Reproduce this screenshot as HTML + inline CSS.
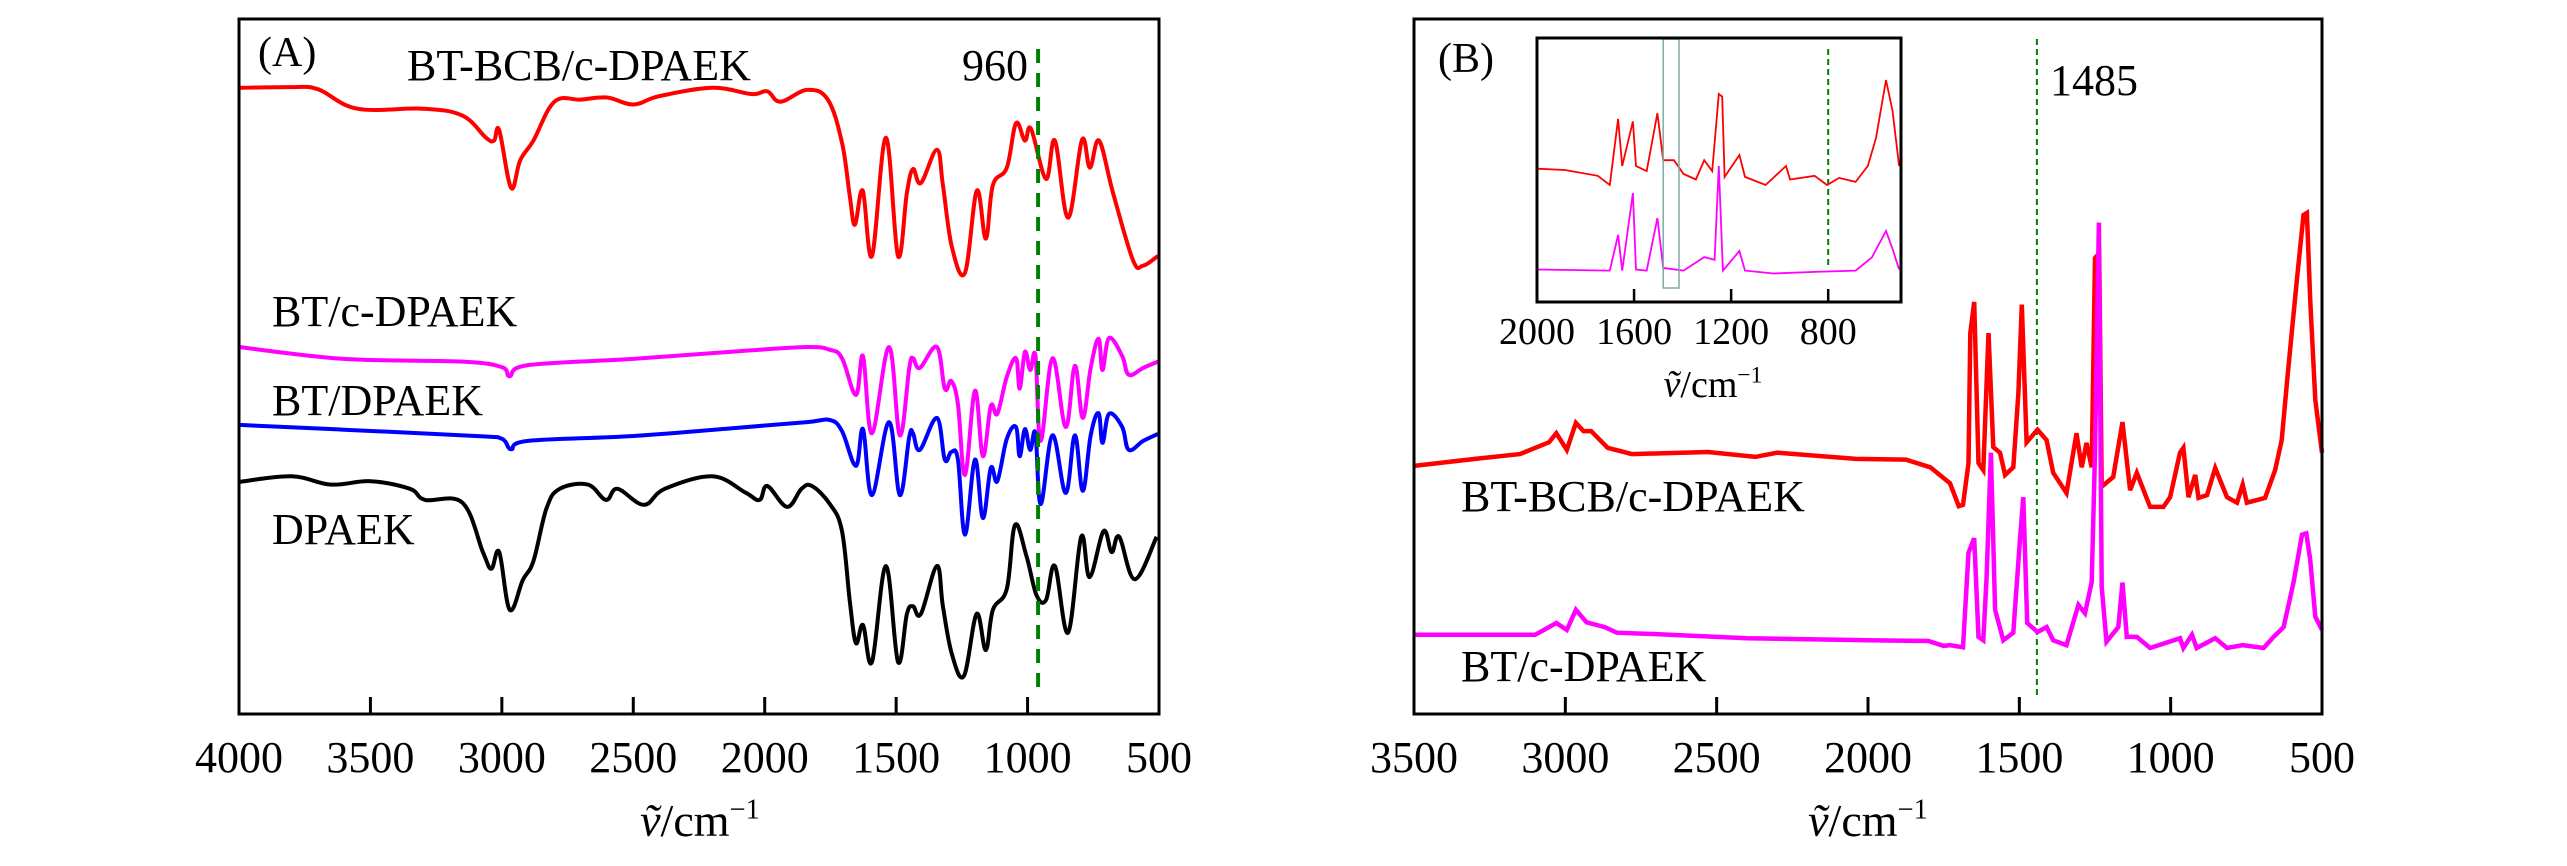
<!DOCTYPE html>
<html><head><meta charset="utf-8"><title>FTIR spectra</title>
<style>
html,body{margin:0;padding:0;background:#fff;}
svg{display:block;font-family:"Liberation Serif",serif;}
</style></head>
<body>
<svg id="chart" width="2567" height="866" viewBox="0 0 2567 866" xmlns="http://www.w3.org/2000/svg">
  <rect x="0" y="0" width="2567" height="866" fill="#fff"/>
  <g id="panelA"></g>
  <g id="panelB"></g>
</svg>
<script>
// ---------- Panel A data (wavenumber, relative transmittance) ----------
const aRedWn = [4000,3800,3700,3550,3300,3150,3060,3030,3010,2965,2930,2880,2800,2700,2600,2500,2400,2200,2050,1990,1940,1839,1760,1706,1676,1657,1627,1592,1539,1493,1459,1436,1406,1345,1322,1288,1238,1193,1159,1132,1079,1044,1010,987,930,896,846,793,763,728,675,599,561,504];
const aRedVal = [90.1,90.2,89.9,87.1,87.1,86.1,82.9,82.5,84.0,75.7,79.7,82.5,88.1,88.4,88.7,87.7,88.9,90.1,89.2,89.6,88.1,89.8,88.4,82.2,74.4,70.4,75.3,65.9,82.9,65.9,75.0,78.4,76.4,81.2,76.1,67.2,63.5,75.3,68.4,76.1,78.6,85.0,82.5,84.2,77.0,82.5,71.4,82.6,78.6,82.5,75.0,65.3,64.5,65.9];
const aPinkWn = [4000,3600,3150,3000,2970,2900,2500,2100,1839,1752,1706,1653,1626,1592,1527,1486,1450,1436,1410,1345,1315,1290,1265,1238,1200,1170,1140,1115,1079,1044,1030,1010,990,970,950,905,855,820,790,760,730,715,690,640,615,560,504];
const aPinkVal = [52.8,51.1,50.7,49.9,48.6,50.2,51.1,52.2,52.8,52.4,51.2,45.9,51.5,40.4,52.8,40.1,49.8,51.2,49.8,52.8,46.8,47.9,44.6,34.4,46.5,37.1,44.3,43.2,48.5,51.2,46.8,52.1,49.5,51.5,39.3,51.2,41.3,50.1,42.6,49.8,54.0,49.5,54.1,51.5,48.8,49.8,50.7];
const aBlueWn = [4000,3600,3100,3000,2965,2900,2500,2100,1839,1752,1706,1653,1626,1592,1527,1486,1450,1436,1410,1345,1315,1290,1265,1238,1200,1170,1140,1115,1079,1044,1030,1010,990,970,950,905,855,820,790,760,730,715,690,640,615,560,504];
const aBlueVal = [41.6,40.9,40.0,39.6,38.1,39.3,40.0,41.2,42.0,42.3,40.7,35.7,41.0,31.5,42.0,31.5,39.9,40.4,38.0,42.6,36.6,37.7,36.6,25.8,36.6,28.2,35.4,33.5,39.6,41.3,37.1,41.0,38.0,40.4,30.2,40.1,31.8,40.1,32.1,40.1,43.3,39.0,43.2,41.3,38.0,39.3,40.3];
const aBlackWn = [4000,3800,3650,3500,3350,3292,3150,3072,3040,3010,2970,2920,2880,2830,2780,2673,2604,2560,2460,2380,2200,2075,2020,1990,1915,1860,1820,1752,1706,1676,1653,1626,1592,1539,1493,1459,1436,1406,1345,1322,1288,1242,1194,1159,1132,1079,1048,1004,966,930,896,846,796,764,711,680,651,592,509];
const aBlackVal = [33.4,34.2,33.0,33.5,32.4,30.8,30.4,23.3,20.9,23.3,15.0,19.3,22.0,29.6,32.4,33.0,30.8,32.4,30.1,32.4,34.2,31.9,30.8,32.8,29.8,32.4,32.8,30.2,26.3,16.1,10.2,12.8,7.5,21.3,7.5,14.4,15.5,14.4,21.3,15.5,8.6,5.5,14.4,9.2,15.0,18.0,27.2,22.7,17.1,16.4,21.3,11.7,25.5,19.7,26.3,23.3,25.5,19.4,25.5];
const aTicks = [4000,3500,3000,2500,2000,1500,1000,500];
const aMarker = 960;

// ---------- Panel B data ----------
const bRedWn = [3500,3298,3150,3054,3030,2995,2965,2940,2915,2860,2780,2529,2372,2300,2040,1875,1794,1729,1700,1686,1668,1662,1649,1635,1619,1602,1586,1564,1547,1520,1503,1492,1476,1440,1410,1388,1344,1311,1294,1278,1261,1250,1236,1228,1190,1159,1134,1112,1068,1024,1002,969,958,941,919,908,880,853,814,781,762,748,688,655,633,616,600,583,561,550,539,522,500];
const bRedVal = [35.7,36.7,37.4,39.1,40.4,38.0,41.9,40.7,40.7,38.3,37.4,37.7,37.0,37.6,36.7,36.6,35.5,33.2,29.9,30.1,36.1,54.8,59.3,36.1,35.1,54.8,38.4,37.6,34.4,35.5,46.2,58.9,39.1,40.9,39.4,34.7,31.8,40.4,35.5,39.0,35.5,65.6,66.3,32.7,34.1,42.0,32.2,34.7,29.8,29.8,31.2,37.6,38.3,31.2,34.4,31.1,31.5,35.4,31.2,30.4,33.0,30.4,31.1,35.1,39.4,47.6,54.8,62.5,71.8,72.1,59.6,45.2,37.6];
const bPinkWn = [3500,3100,3030,2995,2965,2930,2870,2830,2700,2400,2000,1800,1750,1729,1686,1668,1649,1635,1619,1608,1594,1580,1553,1520,1498,1487,1474,1440,1410,1388,1344,1305,1283,1261,1250,1237,1228,1212,1173,1159,1145,1112,1068,969,958,930,914,853,814,762,693,660,627,594,566,552,539,522,500];
const bPinkVal = [11.4,11.4,13.1,12.1,15.0,13.2,12.5,11.7,11.5,10.9,10.6,10.5,9.8,9.9,9.6,23.2,25.3,11.1,10.6,19.7,37.6,15.0,10.6,11.7,25.0,31.2,13.1,11.8,12.5,10.6,9.9,15.7,14.5,19.0,37.6,70.7,18.3,10.4,12.5,18.9,11.1,11.1,9.5,10.9,9.5,11.4,9.5,10.9,9.5,9.9,9.5,11.1,12.5,18.9,25.8,26.0,22.2,14.0,12.1];
const bTicks = [3500,3000,2500,2000,1500,1000,500];
const bMarker = 1442;

// ---------- Inset data ----------
const inRedWn = [2000,1885,1750,1700,1666,1649,1605,1592,1548,1504,1480,1436,1396,1345,1311,1278,1251,1237,1227,1166,1143,1058,974,957,856,805,755,687,637,603,562,535,508];
const inRedVal = [50.5,50,47.8,44.3,69.3,51.5,68.4,51.5,49.6,71.5,53.7,53.7,48.5,46.4,53.7,49.6,78.8,77.8,47.4,55.7,47.4,44.3,51.5,46.4,47.8,44.3,47,45.5,51.5,62.1,84.1,72.5,51.5];
const inPinkWn = [2000,1700,1666,1649,1605,1592,1548,1504,1480,1396,1311,1268,1251,1234,1166,1143,1025,856,687,620,562,535,508];
const inPinkVal = [12.3,11.9,25.4,11.9,41.3,12.3,11.9,31.8,12.9,11.9,17.0,16.0,51.5,11.9,19.3,11.9,10.8,11.4,11.9,16.9,26.9,20.2,12.3];
const inTicks = [2000,1600,1200,800];
const inMarker = 800;
const inBoxWn = [1480,1415];

const NS = 'http://www.w3.org/2000/svg';
function mk(tag, attrs, parent){
  const el = document.createElementNS(NS, tag);
  for (const k in attrs) el.setAttribute(k, attrs[k]);
  parent.appendChild(el);
  return el;
}
function linScale(d0,d1,r0,r1){ return v => r0 + (v-d0)/(d1-d0)*(r1-r0); }
function pathFrom(wn, val, xs, ys){
  let d = '';
  for (let i=0;i<wn.length;i++){ d += (i?'L':'M') + xs(wn[i]).toFixed(1) + ',' + ys(val[i]).toFixed(1); }
  return d;
}
function smoothPath(wn, val, xs, ys){
  const P = wn.map((w,i)=>[xs(w), ys(val[i])]);
  let d = 'M'+P[0][0].toFixed(1)+','+P[0][1].toFixed(1);
  const k = 0.18;
  for (let i=0;i<P.length-1;i++){
    const p0 = P[Math.max(0,i-1)], p1 = P[i], p2 = P[i+1], p3 = P[Math.min(P.length-1,i+2)];
    const c1 = [p1[0]+(p2[0]-p0[0])*k, p1[1]+(p2[1]-p0[1])*k];
    const c2 = [p2[0]-(p3[0]-p1[0])*k, p2[1]-(p3[1]-p1[1])*k];
    d += 'C'+c1[0].toFixed(1)+','+c1[1].toFixed(1)+' '+c2[0].toFixed(1)+','+c2[1].toFixed(1)+' '+p2[0].toFixed(1)+','+p2[1].toFixed(1);
  }
  return d;
}
function text(parent, x, y, str, size, anchor, name){
  const t = mk('text', {x:x, y:y, 'font-size':size, 'text-anchor':anchor||'start', fill:'#000'}, parent);
  t.textContent = str;
  
  
  return t;
}
function axisTitle(parent, cx, y, size, name){
  const t = mk('text', {x:cx, y:y, 'font-size':size, 'text-anchor':'middle', fill:'#000'}, parent);
  
  
  const s1 = mk('tspan', {'font-style':'italic'}, t); s1.textContent = 'ṽ';
  const s2 = mk('tspan', {}, t); s2.textContent = '/cm';
  const s3 = mk('tspan', {'font-size':size*0.62, dy:-size*0.38}, t); s3.textContent = '−1';
}

// ---------- Panel A ----------
(function(){
  const g = document.getElementById('panelA');
  const L=239, R=1159, T=19, B=714;
  const xs = linScale(4000,500,L,R);
  const ys = linScale(0,100,B,B-695);
  const series = [[aRedWn,aRedVal,'#ff0000','series-bt-bcb-c-dpaek'],[aPinkWn,aPinkVal,'#ff00ff','series-bt-c-dpaek'],[aBlueWn,aBlueVal,'#0000ff','series-bt-dpaek'],[aBlackWn,aBlackVal,'#000000','series-dpaek']];
  series.forEach(s=>{
    const p = mk('path',{d:smoothPath(s[0],s[1],xs,ys),fill:'none',stroke:s[2],'stroke-width':4,'stroke-linejoin':'round'},g);
    
    
  });
  const m = mk('line',{x1:xs(aMarker),x2:xs(aMarker),y1:49,y2:697,stroke:'#008000','stroke-width':4,'stroke-dasharray':'14,10'},g);
  
  
  const f = mk('rect',{x:L,y:T,width:R-L,height:B-T,fill:'none',stroke:'#000','stroke-width':3},g);
  
  
  aTicks.forEach(t=>{
    const tk = mk('line',{x1:xs(t),x2:xs(t),y1:B,y2:B-17,stroke:'#000','stroke-width':3},g);
    
    
    text(g, xs(t), 772, String(t), 44, 'middle', 'x-tick-label-'+t);
  });
  axisTitle(g, 700, 836, 46, 'x-axis-title-a');
  text(g, 258, 66, '(A)', 42, 'start', 'panel-label-a');
  text(g, 407, 80, 'BT-BCB/c-DPAEK', 44, 'start', 'label-bt-bcb-c-dpaek');
  text(g, 962, 80, '960', 44, 'start', 'label-960');
  text(g, 272, 326, 'BT/c-DPAEK', 44, 'start', 'label-bt-c-dpaek');
  text(g, 272, 415, 'BT/DPAEK', 44, 'start', 'label-bt-dpaek');
  text(g, 272, 544, 'DPAEK', 44, 'start', 'label-dpaek');
})();

// ---------- Panel B ----------
(function(){
  const g = document.getElementById('panelB');
  const L=1414, R=2322, T=19, B=714;
  const xs = linScale(3500,500,L,R);
  const ys = linScale(0,100,B,B-695);
  const m = mk('line',{x1:xs(bMarker),x2:xs(bMarker),y1:39,y2:695,stroke:'#008000','stroke-width':2,'stroke-dasharray':'6,4'},g);
  
  
  [[bRedWn,bRedVal,'#ff0000','series-b-bt-bcb-c-dpaek'],[bPinkWn,bPinkVal,'#ff00ff','series-b-bt-c-dpaek']].forEach(s=>{
    const p = mk('path',{d:pathFrom(s[0],s[1],xs,ys),fill:'none',stroke:s[2],'stroke-width':4.5,'stroke-linejoin':'miter'},g);
    
    
  });
  const f = mk('rect',{x:L,y:T,width:R-L,height:B-T,fill:'none',stroke:'#000','stroke-width':3},g);
  
  
  bTicks.forEach(t=>{
    if (t!==3500 && t!==500){
      const tk = mk('line',{x1:xs(t),x2:xs(t),y1:B,y2:B-17,stroke:'#000','stroke-width':3},g);
      
      
    }
    text(g, xs(t), 772, String(t), 44, 'middle', 'b-x-tick-label-'+t);
  });
  axisTitle(g, 1868, 836, 46, 'x-axis-title-b');
  text(g, 1438, 72, '(B)', 42, 'start', 'panel-label-b');
  text(g, 2050, 95, '1485', 44, 'start', 'label-1485');
  text(g, 1461, 511, 'BT-BCB/c-DPAEK', 44, 'start', 'label-b-bt-bcb-c-dpaek');
  text(g, 1461, 681, 'BT/c-DPAEK', 44, 'start', 'label-b-bt-c-dpaek');

  // inset
  const iL=1537, iR=1901, iT=38, iB=302;
  const ixs = linScale(2000,500,iL,iR);
  const iys = linScale(0,100,iB,iT);
  const ig = mk('g',{},g);
  
  
  const im = mk('line',{x1:ixs(inMarker),x2:ixs(inMarker),y1:49,y2:265,stroke:'#008000','stroke-width':2,'stroke-dasharray':'6,4'},ig);
  
  
  [[inRedWn,inRedVal,'#ff0000','inset-series-red'],[inPinkWn,inPinkVal,'#ff00ff','inset-series-pink']].forEach(s=>{
    const p = mk('path',{d:pathFrom(s[0],s[1],ixs,iys),fill:'none',stroke:s[2],'stroke-width':1.8},ig);
    
    
  });
  const bx = mk('rect',{x:ixs(inBoxWn[0]),y:39,width:ixs(inBoxWn[1])-ixs(inBoxWn[0]),height:249,fill:'none',stroke:'#7fa8a8','stroke-width':1.5},ig);
  
  
  const ifr = mk('rect',{x:iL,y:iT,width:iR-iL,height:iB-iT,fill:'none',stroke:'#000','stroke-width':3},ig);
  
  
  inTicks.forEach(t=>{
    if (t!==2000){
      const tk = mk('line',{x1:ixs(t),x2:ixs(t),y1:iB,y2:iB-13,stroke:'#000','stroke-width':2.5},ig);
      
      
    }
    text(ig, ixs(t), 344, String(t), 38, 'middle', 'inset-tick-label-'+t);
  });
  axisTitle(ig, 1713, 397, 38, 'inset-x-axis-title');
})();
</script>
</body></html>
